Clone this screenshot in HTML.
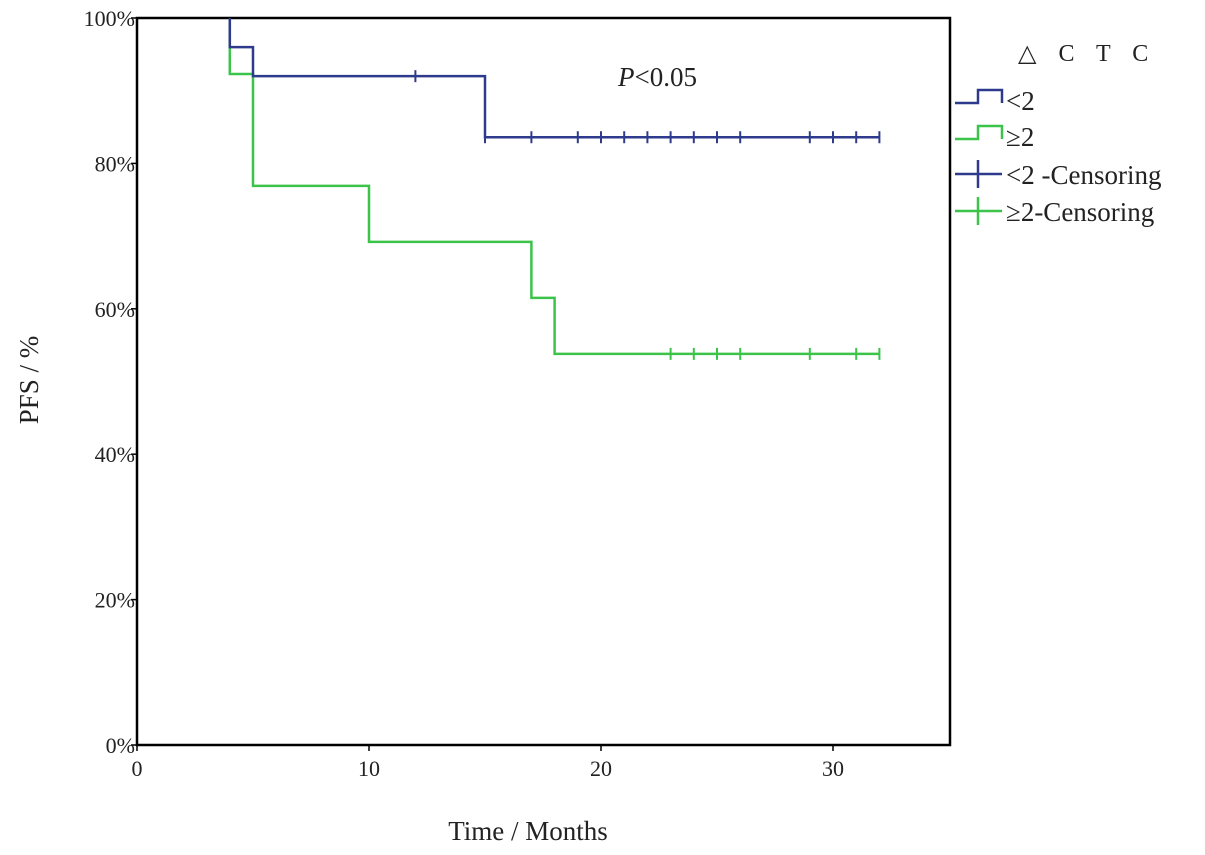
<!DOCTYPE html>
<html><head><meta charset="utf-8"><style>
html,body{margin:0;padding:0;background:#fff;}
svg{display:block;font-family:"Liberation Serif",serif;}
</style></head><body>
<svg id="chart" width="1205" height="855" viewBox="0 0 1205 855"></svg>
<script>
const xTicks=[0,10,20,30];
const yTicks=[0,20,40,60,80,100];
const blueTimes=[0,4,5,15,32];
const blueVals=[100,96,92,83.6,83.6];
const blueCensor=[12,15,17,19,20,21,22,23,24,25,26,29,30,31,32];
const greenTimes=[0,4,5,10,17,18,32];
const greenVals=[100,92.3,76.9,69.2,61.5,53.8,53.8];
const greenCensor=[23,24,25,26,29,31,32];
const blueStart=4, greenStart=4;

const svg=document.getElementById('chart');
const NS='http://www.w3.org/2000/svg';
const L=137,R=950,T=18,B=745;
const sx=v=>L+v*(833-137)/30;
const sy=v=>B-v*(B-T)/100;
function el(tag,attrs,parent){const e=document.createElementNS(NS,tag);for(const k in attrs)e.setAttribute(k,attrs[k]);(parent||svg).appendChild(e);return e;}

const frame=el('rect',{x:L,y:T,width:R-L,height:B-T,fill:'none',stroke:'#000','stroke-width':2.5});



xTicks.forEach(t=>{
  const g=el('g',{});
  
  
  el('line',{x1:sx(t),x2:sx(t),y1:B,y2:B+6,stroke:'#000','stroke-width':1.5},g);
  const tx=el('text',{x:sx(t),y:B+31,'text-anchor':'middle','font-size':22,fill:'#222'},g);tx.textContent=t;
});
yTicks.forEach(t=>{
  const g=el('g',{});
  
  
  el('line',{x1:L-6,x2:L,y1:sy(t),y2:sy(t),stroke:'#000','stroke-width':1.5},g);
  const tx=el('text',{x:L-2,y:sy(t)+8,'text-anchor':'end','font-size':22,fill:'#222'},g);tx.textContent=t+'%';
});

function step(times,vals,start,color,name){
  let d='M'+sx(start)+','+sy(100);
  for(let i=1;i<times.length;i++){
    const t=Math.max(times[i],start);
    d+=' H'+sx(t)+' V'+sy(vals[i]);
  }
  const p=el('path',{d:d,fill:'none',stroke:color,'stroke-width':2.5});
  
  
}
function valAt(times,vals,t){let v=vals[0];for(let i=0;i<times.length;i++){if(times[i]<=t)v=vals[i];}return v;}
function censor(arr,times,vals,color,name){
  arr.forEach(t=>{
    const y=sy(valAt(times,vals,t));
    const c=el('line',{x1:sx(t),x2:sx(t),y1:y-6,y2:y+6,stroke:color,'stroke-width':2});
    
    
  });
}
step(greenTimes,greenVals,greenStart,'#3cc34a','green-curve');
step(blueTimes,blueVals,blueStart,'#2e3a8c','blue-curve');
censor(blueCensor,blueTimes,blueVals,'#2e3a8c','blue-censor-mark');
censor(greenCensor,greenTimes,greenVals,'#3cc34a','green-censor-mark');

function txt(x,y,s,size,name,extra){const t=el('text',Object.assign({x:x,y:y,'font-size':size,fill:'#222'},extra||{}));t.textContent=s;return t;}
const p=el('text',{x:618,y:86,'font-size':27,fill:'#222'});


p.innerHTML='<tspan font-style="italic">P</tspan>&lt;0.05';
txt(528,840,'Time / Months',27,'x-axis-title',{'text-anchor':'middle'});
txt(0,0,'PFS / %',27,'y-axis-title',{'text-anchor':'middle',transform:'translate(38,380) rotate(-90)'});

// legend
const lg=el('g',{});


const lt=el('text',{x:1018,y:61,'font-size':24,fill:'#222','letter-spacing':'8'},lg);lt.textContent='△ C T C';
function legStep(y,color,label,name){
  const g=el('g',{},lg);
  
  
  el('path',{d:`M955,${y+13} H978 V${y} H1002 V${y+13}`,fill:'none',stroke:color,'stroke-width':2.5},g);
  const t=el('text',{x:1006,y:y+20,'font-size':27,fill:'#222'},g);t.textContent=label;
}
function legCross(y,color,label,name){
  const g=el('g',{},lg);
  
  
  el('line',{x1:955,x2:1002,y1:y,y2:y,stroke:color,'stroke-width':2.5},g);
  el('line',{x1:978,x2:978,y1:y-14,y2:y+14,stroke:color,'stroke-width':2.5},g);
  const t=el('text',{x:1006,y:y+10,'font-size':27,fill:'#222'},g);t.textContent=label;
}
legStep(90,'#2e3a8c','<2','legend-blue');
legStep(126,'#3cc34a','≥2','legend-green');
legCross(174,'#2e3a8c','<2 -Censoring','legend-blue-censoring');
legCross(211,'#3cc34a','≥2-Censoring','legend-green-censoring');
</script>
</body></html>
